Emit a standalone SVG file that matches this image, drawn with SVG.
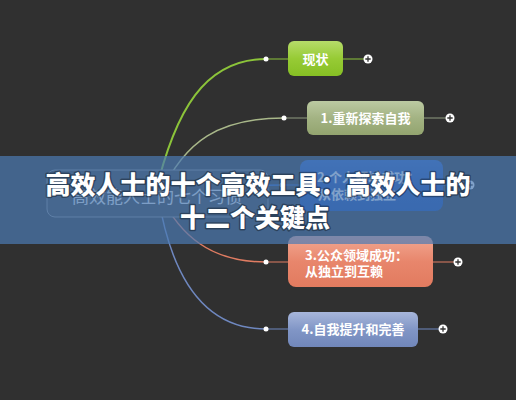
<svg xmlns="http://www.w3.org/2000/svg" width="516" height="400" viewBox="0 0 516 400">
<defs>
<linearGradient id="gGreen" x1="0" y1="0" x2="0" y2="1"><stop offset="0" stop-color="#b6dc6a"/><stop offset="0.5" stop-color="#97cb35"/><stop offset="1" stop-color="#86bf24"/></linearGradient>
<linearGradient id="gOlive" x1="0" y1="0" x2="0" y2="1"><stop offset="0" stop-color="#bccaa2"/><stop offset="0.5" stop-color="#a3b383"/><stop offset="1" stop-color="#93a46f"/></linearGradient>
<linearGradient id="gBlue" x1="0" y1="0" x2="0" y2="1"><stop offset="0" stop-color="#2c60c0"/><stop offset="0.5" stop-color="#1848ac"/><stop offset="1" stop-color="#1044a8"/></linearGradient>
<linearGradient id="gSalmon" x1="0" y1="0" x2="0" y2="1"><stop offset="0" stop-color="#f2a892"/><stop offset="0.5" stop-color="#e8866c"/><stop offset="1" stop-color="#e27b5f"/></linearGradient>
<linearGradient id="gSlate" x1="0" y1="0" x2="0" y2="1"><stop offset="0" stop-color="#a7b6db"/><stop offset="0.5" stop-color="#8196c6"/><stop offset="1" stop-color="#7187ba"/></linearGradient>
</defs>
<style>
.node text{font-family:"Noto Sans CJK SC","Noto Sans",sans-serif;font-weight:bold;font-size:13px;fill:#ffffff}
.dot{fill:#ffffff}
.plus circle{fill:#ffffff}
.plus path{stroke:#333333;stroke-width:1.3;fill:none}
.conn path{fill:none}
.title{font-family:"Noto Sans CJK SC","Noto Sans",sans-serif;font-weight:900;font-size:25px;fill:#ffffff;text-anchor:middle;stroke:rgba(0,0,0,0.35);stroke-width:3px;paint-order:stroke;stroke-linejoin:round}
</style>
<rect width="516" height="400" fill="#303030"/>
<g id="connectors" class="conn">
<path d="M155,195 C175,110 205,59 266,59" stroke="#8cc43a" stroke-width="2"/>
<path d="M160,195 C185,140 220,118 284,118" stroke="#a9b88a" stroke-width="1.5"/>
<path d="M160,195 C200,190 230,185 282,185" stroke="#2a60c0" stroke-width="1.5"/>
<path d="M160,195 C180,235 210,262 266,262" stroke="#e07c62" stroke-width="1.5"/>
<path d="M158,195 C170,270 200,329 266,329" stroke="#6f88c0" stroke-width="1.5"/>
<path d="M266,59 H288 M343,59 H368" stroke="#8cc43a" stroke-width="1"/>
<path d="M284,118 H307 M424,118 H450" stroke="#8f9b80" stroke-width="1"/>
<path d="M282,185 H300 M443,185 H470" stroke="#2a60c0" stroke-width="1"/>
<path d="M266,262 H288 M433,262 H458" stroke="#e07c62" stroke-width="1"/>
<path d="M266,329 H288 M418,329 H443" stroke="#6f88c0" stroke-width="1"/>
</g>
<g id="root" class="node">
<rect x="47" y="170" width="221" height="47" rx="8" fill="#3a3a3a" stroke="#8a8a8a" stroke-width="1"/>
<text x="157" y="203" text-anchor="middle" style="font-size:17px;font-weight:normal;fill:#f2f2f2">高效能人士的七个习惯</text>
</g>
<g id="n0" class="node">
<circle class="dot" cx="266" cy="59" r="2.5"/>
<rect x="288" y="41" width="55" height="35" rx="6" fill="url(#gGreen)"/>
<text x="315.5" y="63.5" text-anchor="middle">现状</text>
<g class="plus"><circle cx="368" cy="59" r="4.5"/><path d="M365.3,59 H370.7 M368,56.3 V61.7"/></g>
</g>
<g id="n1" class="node">
<circle class="dot" cx="284" cy="118" r="2.5"/>
<rect x="307" y="101" width="117" height="34" rx="6" fill="url(#gOlive)"/>
<text x="365.5" y="122.5" text-anchor="middle">1.重新探索自我</text>
<g class="plus"><circle cx="450" cy="118" r="4.5"/><path d="M447.3,118 H452.7 M450,115.3 V120.7"/></g>
</g>
<g id="n2" class="node">
<circle class="dot" cx="282" cy="185" r="2.5"/>
<rect x="300" y="160" width="143" height="51" rx="8" fill="url(#gBlue)"/>
<text x="317" y="182">2.个人领域成功：</text>
<text x="318" y="199">从依赖到独立</text>
<g class="plus"><circle cx="470" cy="185" r="4.5"/><path d="M467.3,185 H472.7 M470,182.3 V187.7"/></g>
</g>
<g id="n3" class="node">
<circle class="dot" cx="266" cy="262" r="2.5"/>
<rect x="288" y="236" width="145" height="51" rx="8" fill="url(#gSalmon)"/>
<text x="305" y="259.5">3.公众领域成功：</text>
<text x="305" y="275.5">从独立到互赖</text>
<g class="plus"><circle cx="458" cy="262" r="4.5"/><path d="M455.3,262 H460.7 M458,259.3 V264.7"/></g>
</g>
<g id="n4" class="node">
<circle class="dot" cx="266" cy="329" r="2.5"/>
<rect x="288" y="312" width="130" height="35" rx="6" fill="url(#gSlate)"/>
<text x="353" y="334" text-anchor="middle">4.自我提升和完善</text>
<g class="plus"><circle cx="443" cy="329" r="4.5"/><path d="M440.3,329 H445.7 M443,326.3 V331.7"/></g>
</g>
<rect x="0" y="156" width="516" height="88" fill="rgb(75,122,179)" fill-opacity="0.7"/>
<text class="title" x="258" y="194">高效人士的十个高效工具：高效人士的</text>
<text class="title" x="255" y="227">十二个关键点</text>
</svg>
